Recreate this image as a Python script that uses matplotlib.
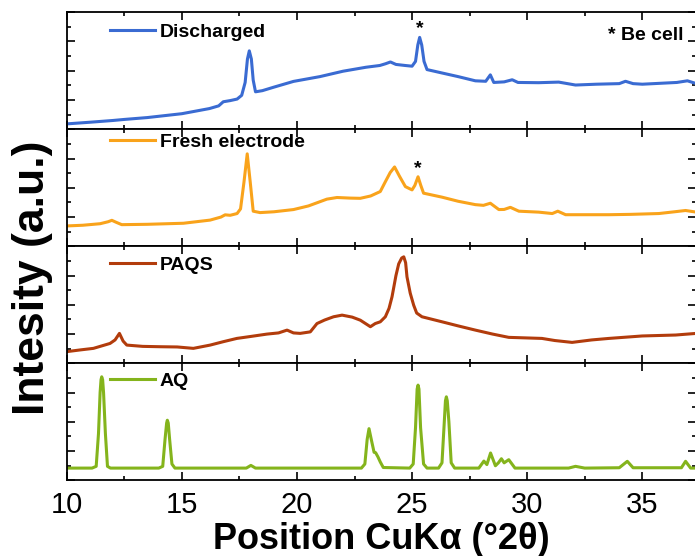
import matplotlib
matplotlib.use("Agg")
import matplotlib.pyplot as plt
from matplotlib.ticker import MultipleLocator

plt.rcParams['font.family'] = ['Liberation Sans', 'DejaVu Sans']

# data (x in degrees 2theta, intensity in arbitrary panel units 0-100)
dis_x = [10.0, 11.0, 12.0, 12.5, 13.5, 15.0, 16.2, 16.6, 16.8, 17.1, 17.4, 17.6, 17.75, 17.85, 17.93,
         18.02, 18.1, 18.2, 18.5, 19.0, 19.85, 21.0, 22.0, 23.0, 23.6, 23.85, 24.06, 24.3, 24.7, 25.0,
         25.15, 25.25, 25.33, 25.42, 25.52, 25.65, 26.3, 27.0, 27.75, 28.2, 28.4, 28.55, 29.0, 29.35,
         29.6, 30.5, 31.37, 32.1, 33.0, 34.0, 34.27, 34.6, 35.0, 36.0, 36.5, 36.96, 37.35]
dis_y = [4.6, 6.0, 7.5, 8.4, 10.0, 13.3, 17.7, 20.0, 23.5, 24.5, 25.8, 29, 40, 60, 67,
         60, 42, 32, 33, 36, 40.9, 45, 49.6, 53, 54.5, 56, 57.5, 55.4, 54.5, 53.9,
         58, 72, 78.5, 72, 58, 51, 48.1, 45, 41.4, 41, 46.5, 40, 40.5, 42.3,
         40, 39.8, 40.3, 37.8, 38.5, 39, 41, 39, 38.5, 39.5, 40, 41.4, 39]

fre_x = [10.0, 10.7, 11.45, 11.8, 11.96, 12.15, 12.39, 13.5, 15.07, 16.23, 16.7, 16.88, 17.1, 17.4,
         17.55, 17.7, 17.84, 17.97, 18.1, 18.4, 19.0, 19.85, 20.5, 21.3, 21.74, 22.3, 22.75, 23.2,
         23.62, 23.84, 24.05, 24.24, 24.45, 24.71, 25.0, 25.12, 25.26, 25.38, 25.5, 26.3, 27.0,
         27.75, 28.1, 28.4, 28.77, 29.0, 29.27, 29.64, 30.5, 31.09, 31.33, 31.67, 32.5, 33.55,
         34.5, 35.72, 36.4, 36.88, 37.35]
fre_y = [17.4, 18, 19.3, 21, 22.2, 20.5, 18.5, 18.8, 19.7, 22.4, 25, 26.9, 26.5, 28,
         32, 55, 79, 55, 30, 28.8, 29.5, 31.4, 34.5, 40.3, 41.7, 41.2, 41, 43,
         46.8, 55.2, 63, 67.8, 60, 51, 48.2, 52, 59.4, 52, 45.4, 42, 38.5,
         35.6, 35, 36.8, 31.4, 31.5, 33.3, 30, 29.2, 28, 30, 27, 27, 27,
         27.3, 28, 29.5, 30.6, 29.2]

paq_x = [10.0, 10.6, 11.16, 11.88, 12.1, 12.29, 12.45, 12.61, 13.3, 14.06, 14.8, 15.5, 16.23, 16.8,
         17.39, 18.0, 18.7, 19.2, 19.57, 19.85, 20.14, 20.58, 20.87, 21.2, 21.59, 21.96, 22.4,
         22.75, 23.19, 23.4, 23.62, 23.84, 24.0, 24.13, 24.3, 24.42, 24.55, 24.64, 24.72, 24.78,
         24.92, 25.07, 25.2, 25.43, 26.3, 27.0, 27.75, 28.5, 29.2, 30.64, 31.2, 31.95, 32.8,
         33.55, 35.0, 36.45, 37.35]
paq_y = [10, 11.5, 12.8, 17, 20, 25.6, 19, 15.6, 14.5, 14.2, 14, 12.8, 15.6, 18.5,
         21.3, 23, 25, 26, 28.4, 26, 25.6, 26.9, 34, 37, 39.8, 41.2, 39.5,
         36.9, 31.3, 34, 35.5, 39.8, 47, 56.9, 75, 85, 90, 91, 86, 73.9,
         60, 49.7, 43, 39.8, 35.5, 32, 28.4, 25, 22.2, 21.3, 19.5, 17.9, 20,
         21.3, 23.4, 24.2, 25.6]

aq_x = [10.0, 11.1, 11.28, 11.38, 11.45, 11.49, 11.52, 11.56, 11.6, 11.68, 11.77, 11.9, 14.0, 14.17,
        14.27, 14.34, 14.37, 14.41, 14.47, 14.57, 14.7, 17.8, 18.0, 18.2, 22.8, 22.95, 23.05, 23.13,
        23.25, 23.35, 23.42, 23.52, 23.62, 23.75, 24.9, 25.05, 25.15, 25.22, 25.26, 25.3, 25.37,
        25.5, 25.65, 26.15, 26.3, 26.4, 26.45, 26.49, 26.53, 26.6, 26.7, 26.85, 27.9, 28.12, 28.25,
        28.41, 28.62, 28.75, 28.88, 29.0, 29.2, 29.47, 31.8, 32.1, 32.5, 34.0, 34.35, 34.6, 36.7,
        36.88, 37.1, 37.35]
aq_y = [10.5, 10.5, 12, 40, 75, 86, 88.5, 86, 75, 40, 12, 10.5, 10.5, 12,
        35, 49, 51.4, 49, 35, 14, 10.5, 10.5, 12.8, 10.5, 10.5, 14, 35, 44.2,
        33, 24, 23.6, 20, 15.7, 11, 10.5, 14, 45, 78, 81.4, 78, 45,
        14, 10.5, 10.5, 15, 50, 68, 71.4, 68, 50, 15, 10.5, 10.5, 16.5, 13.5,
        23.4, 12.5, 15, 18.5, 15, 17.7, 10.5, 10.5, 12, 10.5, 10.8, 16.3, 10.8, 10.8,
        16.3, 10.5, 10.5]

names = ["Discharged", "Fresh electrode", "PAQS", "AQ"]
colors = ["#3a6bd2", "#f9a31b", "#b23c0c", "#84b41c"]
series = [(dis_x, dis_y), (fre_x, fre_y), (paq_x, paq_y), (aq_x, aq_y)]
legend_y = [0.83, 0.89, 0.84, 0.85]

fig = plt.figure(figsize=(6.95, 5.56), dpi=100)
gs = fig.add_gridspec(4, 1, left=0.096, right=1.002, top=0.978, bottom=0.136, hspace=0)
axes = [fig.add_subplot(gs[i]) for i in range(4)]

for i, ax in enumerate(axes):
    xs, ys = series[i]
    ax.plot(xs, ys, color=colors[i], lw=2.2, label=names[i])
    ax.set_xlim(10, 37.35)
    ax.set_ylim(0, 100)
    ax.xaxis.set_major_locator(MultipleLocator(5))
    ax.xaxis.set_minor_locator(MultipleLocator(2.5))
    ax.yaxis.set_major_locator(MultipleLocator(25))
    ax.yaxis.set_minor_locator(MultipleLocator(12.5))
    ax.tick_params(which='both', direction='in', top=True, right=True, width=1.2)
    ax.tick_params(which='major', length=6)
    ax.tick_params(which='minor', length=3)
    ax.tick_params(axis='y', labelleft=False)
    for s in ax.spines.values():
        s.set_linewidth(1.3)
    if i < 3:
        ax.tick_params(axis='x', labelbottom=False)
    leg = ax.legend(loc='center left', bbox_to_anchor=(0.069, legend_y[i]), frameon=False,
                    borderpad=0, borderaxespad=0, handlelength=2.3, handletextpad=0.25,
                    prop={'weight': 'bold', 'size': 14})

axes[0].text(25.33, 86, "*", ha='center', va='center', fontsize=14, fontweight='bold')
axes[1].text(25.26, 66, "*", ha='center', va='center', fontsize=14, fontweight='bold')
axes[0].text(36.8, 80, "* Be cell", ha='right', va='center', fontsize=14, fontweight='bold')

axes[3].tick_params(axis='x', labelsize=21, pad=8)
axes[3].set_xlabel("Position CuKα (°2θ)", fontsize=26, fontweight='bold', labelpad=2)
fig.text(0.047, 1 - 278 / 556, "Intesity (a.u.)", rotation=90, ha='center', va='center',
         fontsize=32, fontweight='bold')

fig.savefig("out.png", dpi=100)
